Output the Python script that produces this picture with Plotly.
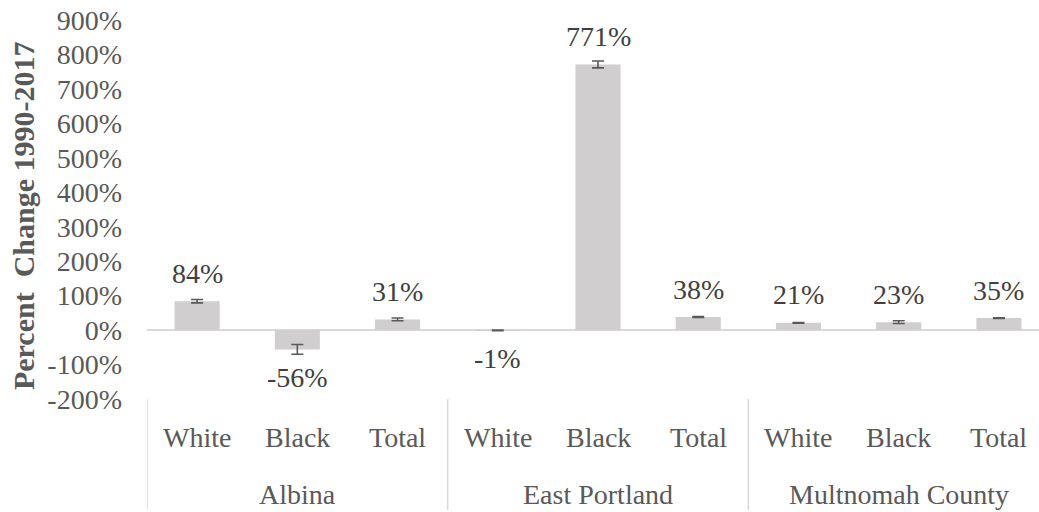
import plotly.graph_objects as go

regions = ["Albina", "Albina", "Albina",
           "East Portland", "East Portland", "East Portland",
           "Multnomah County", "Multnomah County", "Multnomah County"]
groups = ["White", "Black", "Total"] * 3
values = [84, -56, 31, -1, 771, 38, 21, 23, 35]
errors = [5, 14, 4, 1, 10, 1.5, 1, 4, 1]
labels = ["84%", "-56%", "31%", "-1%", "771%", "38%", "21%", "23%", "35%"]
y_ticks = list(range(-200, 1000, 100))
y_tick_text = [f"{v}%" for v in y_ticks]

FONT = "Liberation Serif"
BAR = "#D0CECE"
AXIS = "#D9D9D9"
TXT = "#595959"

W, H = 1039, 512
ML, MT, MB = 147, 20, 113
plot_h = H - MT - MB
plot_w = W - ML

keys = [f"{r} | {g}" for r, g in zip(regions, groups)]

fig = go.Figure()
fig.add_trace(go.Bar(
    x=keys,
    y=values,
    marker=dict(color=BAR, line=dict(width=0)),
    width=0.45,
    error_y=dict(type="data", array=errors, visible=True,
                 color=TXT, thickness=1.6, width=6),
    hoverinfo="skip",
))

# data labels
for k, v, t in zip(keys, values, labels):
    sign = 1 if v >= 0 else -1
    fig.add_annotation(
        x=k, y=v, text=t, showarrow=False,
        xref="x", yref="y", yanchor="middle", xanchor="center",
        yshift=sign * 28,
        font=dict(family=FONT, size=28, color="#404040"),
    )

# first-level category labels
for k, g in zip(keys, groups):
    fig.add_annotation(
        x=k, y=-38 / plot_h, text=g, showarrow=False,
        xref="x", yref="paper", yanchor="middle", xanchor="center",
        font=dict(family=FONT, size=28, color=TXT),
    )

# second-level group labels and dividers
region_order = list(dict.fromkeys(regions))
for r in region_order:
    idx = [i for i, rr in enumerate(regions) if rr == r]
    center = sum(idx) / len(idx)
    fig.add_annotation(
        x=center, y=-95 / plot_h, text=r, showarrow=False,
        xref="x", yref="paper", yanchor="middle", xanchor="center",
        font=dict(family=FONT, size=28, color=TXT),
    )
    fig.add_shape(
        type="line", xref="x", yref="paper",
        x0=idx[0] - 0.5, x1=idx[0] - 0.5, y0=0, y1=-(MB - 2) / plot_h,
        line=dict(color=AXIS, width=1.5),
    )

fig.add_annotation(
    text="Percent  Change 1990-2017", textangle=-90,
    xref="paper", yref="paper", x=-123.5 / plot_w, y=0.484,
    xanchor="center", yanchor="middle", showarrow=False,
    font=dict(family=FONT, size=30, color=TXT, weight="bold"),
)

fig.update_layout(
    width=W, height=H,
    margin=dict(l=ML, r=0, t=MT, b=MB, autoexpand=False),
    paper_bgcolor="white", plot_bgcolor="white",
    showlegend=False,
    font=dict(family=FONT, size=28, color=TXT),
)
fig.update_xaxes(
    type="category",
    range=[-0.5, 8.4],
    showline=False, showgrid=False, zeroline=False,
    showticklabels=False, ticks="",
)
fig.update_yaxes(
    range=[-200, 900],
    tickvals=y_ticks, ticktext=y_tick_text,
    showgrid=False, showline=False,
    zeroline=True, zerolinecolor=AXIS, zerolinewidth=1.5,
    tickfont=dict(family=FONT, size=28, color=TXT),
    ticklabelstandoff=24,
    ticklabeloverflow="allow",
)

fig.write_html("out.html", config={"displayModeBar": False},
               post_script="document.body.style.margin='0';")
